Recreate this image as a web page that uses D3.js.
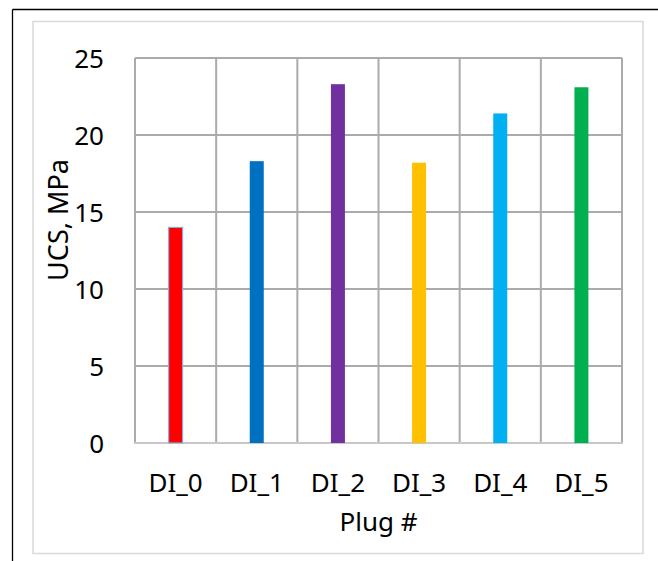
<!DOCTYPE html>
<html>
<head>
<meta charset="utf-8">
<script src="https://cdn.jsdelivr.net/npm/d3@7/dist/d3.min.js"></script>
<style>
  html, body { margin: 0; padding: 0; background: #fff; }
  svg { display: block; }
  text { font-family: "Noto Sans", "Open Sans", sans-serif; fill: #000; }
</style>
</head>
<body>
<svg id="chart" width="658" height="561"></svg>
<script>
const categories = ["DI_0", "DI_1", "DI_2", "DI_3", "DI_4", "DI_5"];
const ucsValues = [14.0, 18.3, 23.3, 18.2, 21.4, 23.1];
const barColors = ["#FF0000", "#0070C0", "#7030A0", "#FFC000", "#00B0F0", "#00B050"];
const yTicks = [0, 5, 10, 15, 20, 25];
const xTitle = "Plug #";
const yTitle = "UCS, MPa";

const svg = d3.select("#chart");
const W = 658, H = 561;
const plot = { left: 135, right: 622, top: 58, bottom: 443 };

// outer frame (black, left + top only visible)
svg.append("line").attr("x1", 12.5).attr("x2", 12.5).attr("y1", 9.5).attr("y2", H)
  .attr("stroke", "#000").attr("stroke-width", 1.3);
svg.append("line").attr("x1", 12.5).attr("x2", W).attr("y1", 9.5).attr("y2", 9.5)
  .attr("stroke", "#000").attr("stroke-width", 1.3);

// chart area border (light gray)
svg.append("rect").attr("x", 33).attr("y", 21.5).attr("width", 610).attr("height", 532)
  .attr("fill", "none").attr("stroke", "#d9d9d9").attr("stroke-width", 1.5);

const x = d3.scaleBand().domain(categories).range([plot.left, plot.right]).padding(0);
const y = d3.scaleLinear().domain([0, 25]).range([plot.bottom, plot.top]);

// horizontal gridlines
svg.append("g").selectAll("line").data(yTicks.filter(t => t > 0)).join("line")
  .attr("x1", plot.left).attr("x2", plot.right)
  .attr("y1", d => y(d)).attr("y2", d => y(d))
  .attr("stroke", "#ababab").attr("stroke-width", 2);

// vertical gridlines at category boundaries
const bounds = categories.map(c => x(c)).concat([x(categories[categories.length - 1]) + x.bandwidth()]);
svg.append("g").selectAll("line").data(bounds).join("line")
  .attr("x1", d => d).attr("x2", d => d)
  .attr("y1", plot.top).attr("y2", plot.bottom)
  .attr("stroke", "#ababab").attr("stroke-width", 2);

// x axis line
svg.append("line").attr("x1", plot.left - 1).attr("x2", plot.right + 1)
  .attr("y1", plot.bottom).attr("y2", plot.bottom)
  .attr("stroke", "#c8c8c8").attr("stroke-width", 2);

// bars
const barW = 14;
svg.append("g").selectAll("rect").data(categories).join("rect")
  .attr("x", d => x(d) + x.bandwidth() / 2 - barW / 2)
  .attr("width", barW)
  .attr("y", (d, i) => y(ucsValues[i]))
  .attr("height", (d, i) => y(0) - y(ucsValues[i]))
  .attr("fill", (d, i) => barColors[i])
  .attr("stroke", (d, i) => i === 0 ? "#8faadc" : "none")
  .attr("stroke-width", 1.2);

// y tick labels
svg.append("g").selectAll("text").data(yTicks).join("text")
  .attr("x", 104).attr("y", d => y(d))
  .attr("text-anchor", "end").attr("dominant-baseline", "central")
  .attr("font-size", 26)
  .text(d => d);

// x tick labels
svg.append("g").selectAll("text").data(categories).join("text")
  .attr("x", d => x(d) + x.bandwidth() / 2).attr("y", 492)
  .attr("text-anchor", "middle").attr("font-size", 26)
  .text(d => d);

// axis titles
svg.append("text").attr("x", 378.5).attr("y", 531)
  .attr("text-anchor", "middle").attr("font-size", 26).text(xTitle);
svg.append("text")
  .attr("transform", "translate(68,220) rotate(-90)")
  .attr("text-anchor", "middle").attr("font-size", 27).text(yTitle);
</script>
</body>
</html>
